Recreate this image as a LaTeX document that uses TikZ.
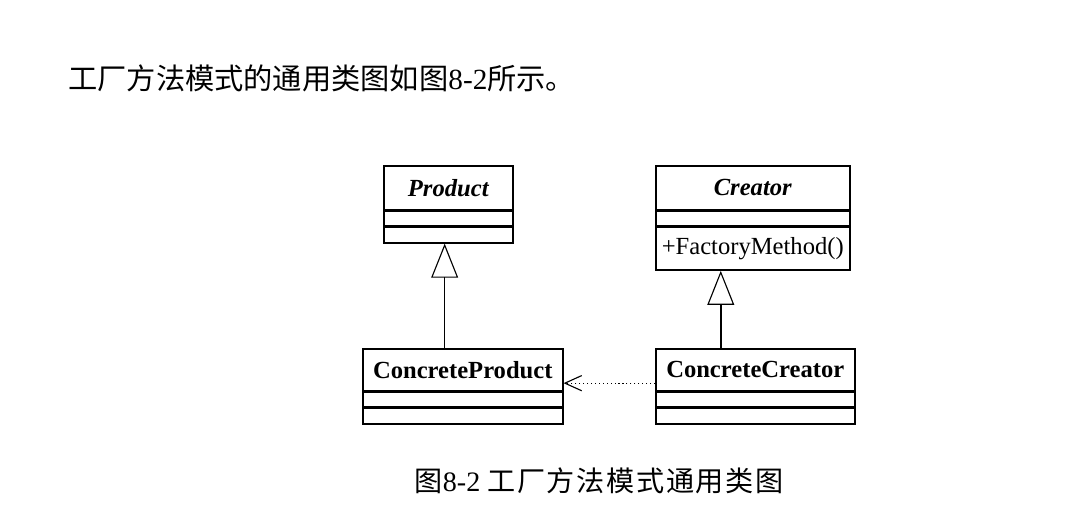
\documentclass[tikz,border=0pt]{standalone}
\usepackage{fontspec}
\setmainfont{Liberation Serif}
\newfontfamily\cjk{Noto Sans CJK SC}
\newfontfamily\cjkwide{Noto Sans CJK SC}[LetterSpace=6]
\usetikzlibrary{arrows.meta}

\begin{document}
\begin{tikzpicture}[x=1cm,y=1cm]
        \tikzset{
        cls head/.style={draw,line width=1.1pt,anchor=north west,inner sep=0,font=\fontsize{17.5}{20}\selectfont\bfseries},
        cls part/.style={draw,line width=1.1pt,anchor=north west,inner sep=0,font=\fontsize{17.5}{20}\selectfont},
        gen edge/.style={line width=1.1pt,-{Triangle[open,width=0.67cm,length=0.85cm,line width=0.8pt]}},
        dep edge/.style={line width=0.8pt,dotted,-{Straight Barb[length=0.42cm,width=0.38cm,line width=0.8pt]}}
        }
        \useasboundingbox (0,0) rectangle (26.9,13.05);

        % text around the figure
        \node[anchor=west,inner sep=0,font=\fontsize{20.8}{24}\selectfont] (intro) at (1.7,11.1)
            {{\cjk 工厂方法模式的通用类图如图}8-2{\cjk 所示。}};
        \node[inner sep=0,font=\fontsize{20}{24}\selectfont] (caption) at (14.98,1.02)
            {{\cjk 图}8-2 {\cjkwide 工厂方法模式通用类图}};

        % Product
        \node[cls head,minimum width=3.225cm,minimum height=1.1cm] (prod) at (9.575,8.925) {\itshape Product};
        \node[cls part,minimum width=3.225cm,minimum height=0.36cm] (prod1) at (prod.south west) {};
        \node[cls part,minimum width=3.225cm,minimum height=0.39cm] (prod2) at (prod1.south west) {};

        % Creator
        \node[cls head,minimum width=4.85cm,minimum height=1.1cm] (cre) at (16.375,8.925) {\itshape Creator};
        \node[cls part,minimum width=4.85cm,minimum height=0.36cm] (cre1) at (cre.south west) {};
        \node[cls part,minimum width=4.85cm,minimum height=1.07cm] (cre2) at (cre1.south west) {+FactoryMethod()};

        % ConcreteProduct
        \node[cls head,minimum width=5cm,minimum height=1.06cm] (cprod) at (9.05,4.35) {ConcreteProduct};
        \node[cls part,minimum width=5cm,minimum height=0.36cm] (cprod1) at (cprod.south west) {};
        \node[cls part,minimum width=5cm,minimum height=0.38cm] (cprod2) at (cprod1.south west) {};

        % ConcreteCreator
        \node[cls head,minimum width=4.975cm,minimum height=1.06cm] (ccre) at (16.375,4.35) {ConcreteCreator};
        \node[cls part,minimum width=4.975cm,minimum height=0.36cm] (ccre1) at (ccre.south west) {};
        \node[cls part,minimum width=4.975cm,minimum height=0.38cm] (ccre2) at (ccre1.south west) {};

        \coordinate (prodtip) at ([xshift=-0.09cm]prod2.south);
        \coordinate (cretip) at ([xshift=-0.8cm]cre2.south);
        \coordinate (ccrefrom) at ([yshift=-0.33cm]ccre.west);

        \draw[gen edge] (cprod.north -| prodtip) -- (prodtip);
        \draw[gen edge] (ccre.north -| cretip) -- (cretip);
        \draw[dep edge] (ccrefrom) -- (ccrefrom -| cprod.east);
    \end{tikzpicture}
\end{document}
